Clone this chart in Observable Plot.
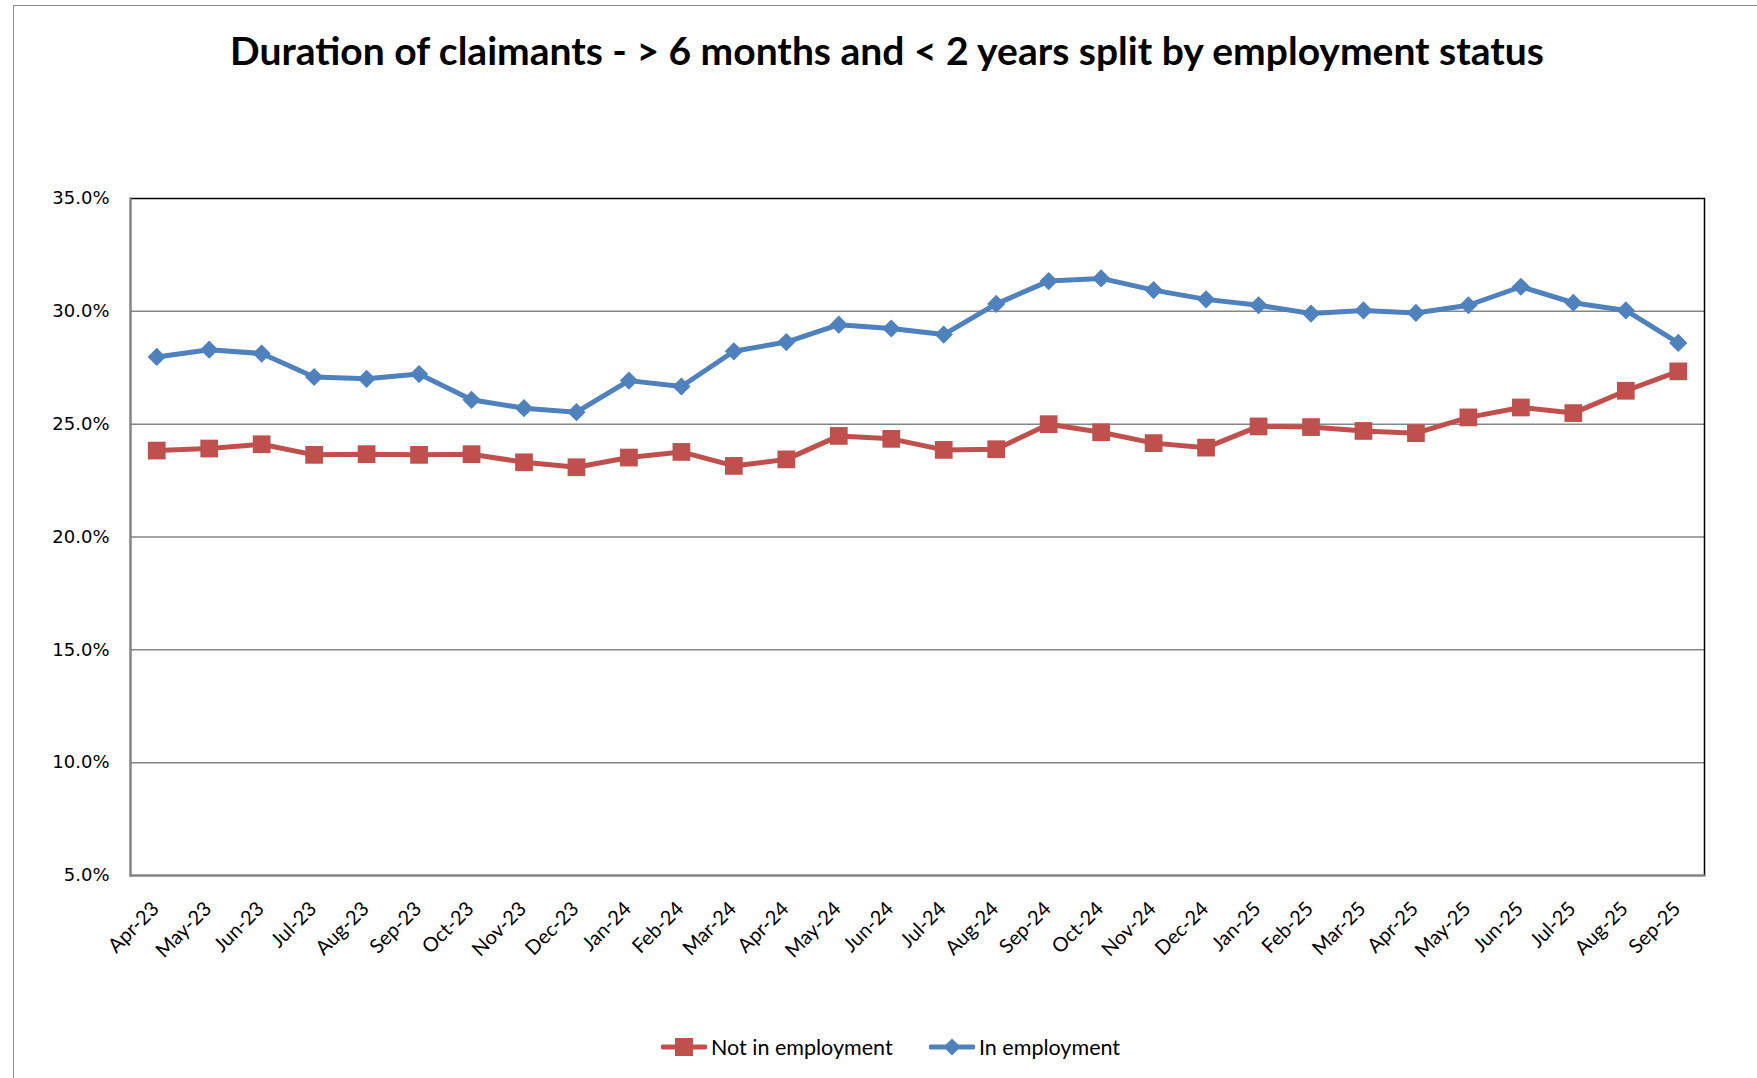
<!DOCTYPE html>
<html>
<head>
<meta charset="utf-8">
<script src="https://cdn.jsdelivr.net/npm/d3@7"></script>
<script src="https://cdn.jsdelivr.net/npm/@observablehq/plot@0.6"></script>
<style>
  html, body { margin: 0; padding: 0; background: #fff; }
  #wrap { position: relative; width: 1757px; height: 1078px; overflow: hidden; background: #fff; }
  #border { position: absolute; left: 13px; top: 5px; width: 1900px; height: 1300px; border: 1.5px solid #8c8c8c; box-sizing: border-box; }
  #title { position: absolute; left: 13px; top: 24px; width: 1748px; text-align: center; font-family: Lato, sans-serif; font-weight: bold; font-size: 39px; line-height: 52px; color: #000; }
  #chart { position: absolute; left: 0; top: 150px; }
  .leg { position: absolute; top: 1034px; font-family: Lato, sans-serif; font-size: 21.5px; color: #000; display: flex; align-items: center; }
  .leg svg { margin-right: 4px; }
</style>
</head>
<body>
<div id="wrap">
  <div id="border"></div>
  <div id="title">Duration of claimants - &gt; 6 months and &lt; 2 years split by employment status</div>
  <div id="chart"></div>
  <div class="leg" style="left:661px">
    <svg width="46" height="26"><line x1="2" y1="13" x2="44" y2="13" stroke="#C0504D" stroke-width="5" stroke-linecap="round"/><rect x="14" y="4" width="18" height="18" fill="#C0504D"/></svg>Not in employment
  </div>
  <div class="leg" style="left:929px">
    <svg width="46" height="26"><line x1="2" y1="13" x2="44" y2="13" stroke="#4F81BD" stroke-width="5" stroke-linecap="round"/><polygon points="23,4.5 31.5,13 23,21.5 14.5,13" fill="#4F81BD"/></svg>In employment
  </div>
</div>
<script>
const months = ["Apr-23","May-23","Jun-23","Jul-23","Aug-23","Sep-23","Oct-23","Nov-23","Dec-23","Jan-24","Feb-24","Mar-24","Apr-24","May-24","Jun-24","Jul-24","Aug-24","Sep-24","Oct-24","Nov-24","Dec-24","Jan-25","Feb-25","Mar-25","Apr-25","May-25","Jun-25","Jul-25","Aug-25","Sep-25"];
const notInEmployment = [23.83,23.92,24.11,23.64,23.67,23.64,23.67,23.31,23.09,23.52,23.77,23.15,23.44,24.48,24.35,23.86,23.89,25.00,24.64,24.16,23.96,24.90,24.87,24.70,24.60,25.30,25.74,25.49,26.48,27.34];
const inEmployment = [27.98,28.30,28.13,27.09,27.01,27.22,26.08,25.71,25.53,26.93,26.67,28.23,28.64,29.41,29.24,28.97,30.33,31.34,31.46,30.94,30.53,30.27,29.90,30.04,29.93,30.27,31.09,30.38,30.04,28.60];
const yTicks = [5,10,15,20,25,30,35];
const seriesNames = ["Not in employment","In employment"];
const seriesColors = ["#C0504D","#4F81BD"];

const red = months.map((m,i)=>({month:m, value:notInEmployment[i]}));
const blue = months.map((m,i)=>({month:m, value:inEmployment[i]}));

const chart = Plot.plot({
  width: 1757,
  height: 850,
  marginLeft: 130,
  marginRight: 53,
  marginTop: 48,
  marginBottom: 125,
  style: { fontFamily: "Lato, sans-serif", fontSize: "16px", color: "#000", background: "transparent", overflow: "visible" },
  x: { type: "point", domain: months, padding: 0.5, round: false },
  y: { domain: [5, 35] },
  marks: [
    Plot.ruleY(yTicks.filter(d => d > 5 && d < 35), { stroke: "#868686", strokeWidth: 1.5 }),
    Plot.frame({ stroke: "#000", strokeWidth: 1.5 }),
    Plot.frame({ anchor: "left", stroke: "#868686", strokeWidth: 2 }),
    Plot.frame({ anchor: "bottom", stroke: "#868686", strokeWidth: 2 }),
    Plot.axisY({ ticks: yTicks, tickFormat: d => d.toFixed(1) + "%", tickSize: 0, tickPadding: 21, fontFamily: "DejaVu Sans, sans-serif", fontSize: 18, label: null }),
    Plot.axisX({ tickRotate: -45, tickSize: 0, tickPadding: 30, fontSize: 20, label: null, dx: -1 }),
    Plot.line(red, { x: "month", y: "value", stroke: seriesColors[0], strokeWidth: 5 }),
    Plot.dot(red, { x: "month", y: "value", symbol: "square", r: 10, fill: seriesColors[0] }),
    Plot.line(blue, { x: "month", y: "value", stroke: seriesColors[1], strokeWidth: 5 }),
    Plot.dot(blue, { x: "month", y: "value", symbol: "diamond2", r: 8.2, fill: seriesColors[1] })
  ]
});
document.getElementById("chart").appendChild(chart);
</script>
</body>
</html>
